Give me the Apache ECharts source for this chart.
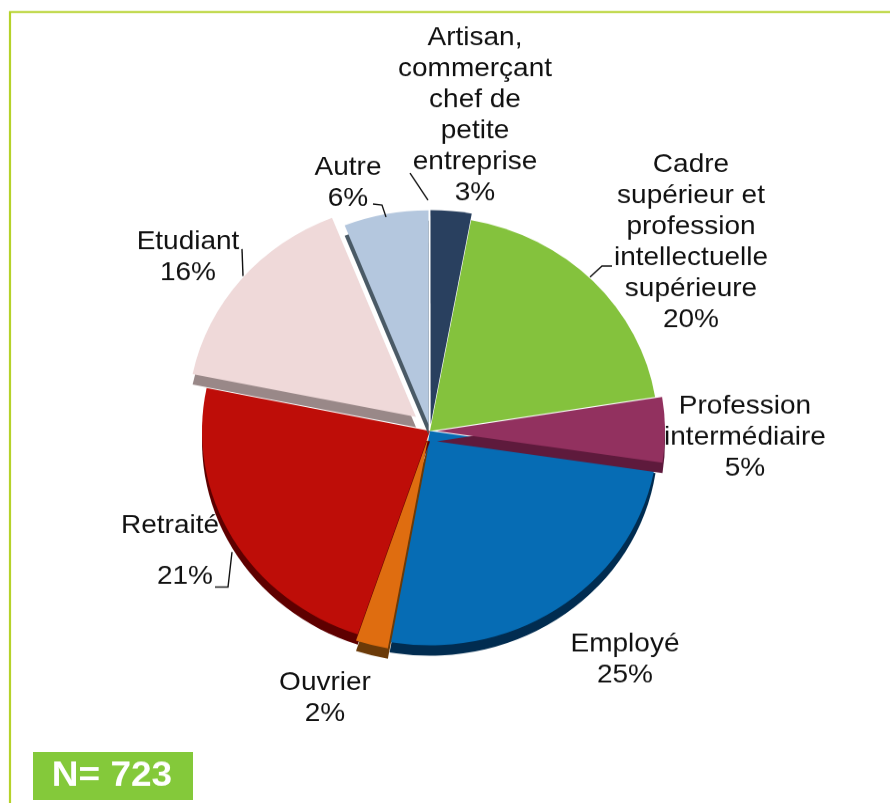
<!DOCTYPE html>
<html><head><meta charset="utf-8">
<style>html,body{margin:0;padding:0;background:#fff;overflow:hidden}#w{width:890px;height:803px;overflow:hidden}#c{width:890px;height:855px;transform:scale(1,0.94);transform-origin:0 0}</style>
<script src="https://cdn.jsdelivr.net/npm/echarts@6/dist/echarts.min.js"></script>
</head><body><div id="w"><div id="c"></div></div>
<script>
const S = 0.94;
const Y = y => y / S;
const categories = ["Employé","Ouvrier","Retraité","Etudiant","Autre","Artisan,\ncommerçant\nchef de\npetite\nentreprise","Cadre\nsupérieur et\nprofession\nintellectuelle\nsupérieure","Profession\nintermédiaire"];
const angleShares = [25.5,2.3,23.1,15.8,6,2.9,19.6,4.9];
const percentLabels = ["25%","2%","21%","16%","6%","3%","20%","5%"];
const colors = ["#066CB4","#DF6D10","#BE0D08","#EFD9D9","#B4C7DE","#29405F","#84C23D","#92315F"];
const depthColors = ["#012C50","#6B3A08","#5E0000","#998888","#4A5A66","#29405F","#84C23D","#5E1A3C"];
const exploded = [1,4,5,7];
const farIndex = 3;
const farShift = [-14,-14];
const withDepth = [0,1,2,3,4,7];
const labelPos = [[625,659.5],[325,698.5],[170,561],[188,257.5],[348,183],[475,115.5],[691,242],[745,437]];
const leaders = [
 [[410,173],[428,200]],
 [[373,204],[382,205],[386,217]],
 [[242,249],[243,276]],
 [[612,266],[602,266],[590,277]],
 [[215,587],[228,587],[232,552]]
];
const chart = echarts.init(document.getElementById('c'));
const font = '"Liberation Sans", Arial, sans-serif';
const P = p => [p[0], Y(p[1])];
const clear = 'rgba(0,0,0,0)';
const solid = i => ({color:colors[i],shadowColor:depthColors[i],shadowBlur:0,shadowOffsetX:0,shadowOffsetY:withDepth.includes(i)?11:0});
const base = {type:'pie',radius:[0,228],startAngle:-8.5,clockwise:true,avoidLabelOverlap:false,silent:true,labelLine:{show:false}};
chart.setOption({
  animation:false,
  backgroundColor:'#fff',
  graphic:[
    {type:'polyline',shape:{points:[[890,12],[10,12],[10,864]].map(P)},style:{fill:'none',stroke:'#B5D22A',lineWidth:2.2},silent:true},
    {type:'rect',shape:{x:33,y:Y(752),width:160,height:Y(48)},style:{fill:'#84C93A'},silent:true},
    {type:'text',x:112,y:Y(776),style:{text:'N= 723',fill:'#fff',font:'bold 37px '+font,align:'center',verticalAlign:'middle'},silent:true},
    ...leaders.map(p=>({type:'polyline',shape:{points:p.map(P)},style:{fill:'none',stroke:'#111',lineWidth:1.4},silent:true,z:20}))
  ],
  series:[
  {...base,
    center:[430,Y(431)],
    selectedMode:'multiple',
    selectedOffset:7,
    label:{show:false},
    data:categories.map((n,i)=>({name:n,value:angleShares[i],selected:exploded.includes(i),
      itemStyle:i===farIndex?{color:clear}:solid(i)}))
  },
  {...base,
    center:[430+farShift[0],Y(431+farShift[1])],
    label:{show:true,position:'outside',color:'#111',fontFamily:font,fontSize:28,lineHeight:33,align:'center'},
    labelLayout:p=>({x:labelPos[p.dataIndex][0],y:Y(labelPos[p.dataIndex][1]),align:'center',verticalAlign:'middle'}),
    data:categories.map((n,i)=>{
      const d={name:n,value:angleShares[i],
        itemStyle:i===farIndex?solid(i):{color:clear},
        label:{formatter:n+'\n'+percentLabels[i]}};
      if(i===2){d.label={formatter:'{a|Retraité}\n{b|21%}',rich:{a:{fontSize:28,lineHeight:33,fontFamily:font,color:'#111'},b:{fontSize:28,lineHeight:75,fontFamily:font,color:'#111',align:'right',padding:[0,6,0,0]}}};}
      return d;
    })
  }]
});
</script></body></html>
